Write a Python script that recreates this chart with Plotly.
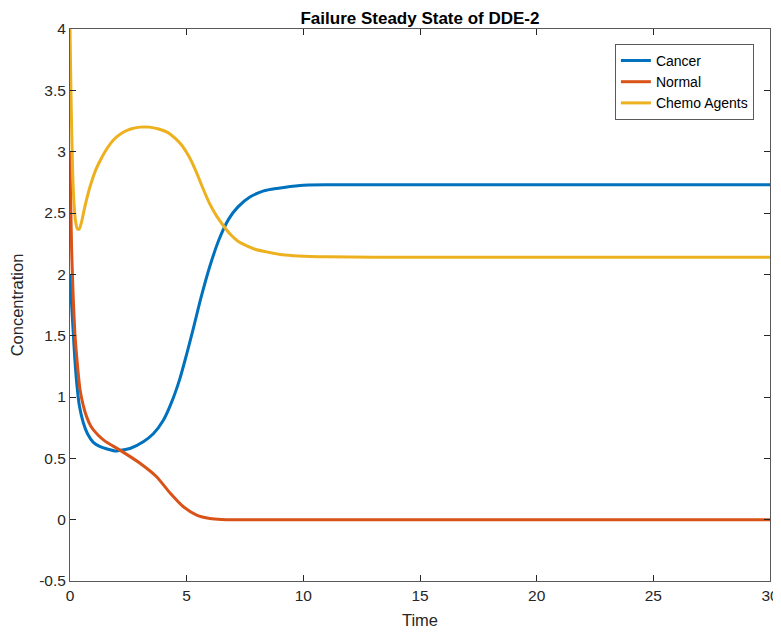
import plotly.graph_objects as go

# ---- data ----
t_cancer = [0, 0.07, 0.14, 0.21, 0.29, 0.4, 0.57, 0.75, 1.0, 1.29, 1.71, 1.93, 2.14, 2.57,
            3.14, 3.57, 4.0, 4.36, 4.71, 5.0, 5.3, 5.6, 6.0, 6.4, 6.8, 7.2, 7.71, 8.3,
            8.86, 9.86, 11, 15, 20, 25, 30]
cancer = [2.0, 1.75, 1.52, 1.30, 1.11, 0.93, 0.79, 0.70, 0.63, 0.595, 0.57, 0.56, 0.565, 0.58,
          0.635, 0.70, 0.81, 0.96, 1.15, 1.35, 1.57, 1.80, 2.07, 2.29, 2.45, 2.55, 2.63, 2.68,
          2.70, 2.725, 2.73, 2.73, 2.73, 2.73, 2.73]

t_normal = [0, 0.03, 0.07, 0.14, 0.21, 0.3, 0.43, 0.57, 0.71, 0.9, 1.2, 1.5, 2.14, 3.0,
            3.71, 4.29, 4.86, 5.43, 6.0, 6.5, 7.0, 10, 15, 20, 25, 30]
normal = [3.0, 2.6, 2.2, 1.8, 1.52, 1.3, 1.06, 0.93, 0.84, 0.76, 0.69, 0.64, 0.567, 0.46,
          0.35, 0.217, 0.105, 0.038, 0.01, 0.002, 0.0, 0.0, 0.0, 0.0, 0.0, 0.0]

t_chemo = [0, 0.04, 0.08, 0.12, 0.17, 0.24, 0.32, 0.4, 0.5, 0.6, 0.75, 0.9, 1.1, 1.3,
           1.5, 1.75, 2.0, 2.3, 2.6, 3.0, 3.4, 3.8, 4.2, 4.5, 4.8, 5.1, 5.4, 5.7, 6.0,
           6.3, 6.6, 6.9, 7.2, 7.6, 8.0, 8.5, 9.1, 9.8, 11, 13, 20, 30]
chemo = [4.0, 3.5, 3.1, 2.8, 2.58, 2.43, 2.37, 2.37, 2.43, 2.52, 2.64, 2.74, 2.85, 2.93,
         3.00, 3.07, 3.12, 3.16, 3.185, 3.20, 3.20, 3.185, 3.155, 3.11, 3.05, 2.96, 2.84,
         2.70, 2.57, 2.47, 2.39, 2.32, 2.27, 2.23, 2.20, 2.18, 2.16, 2.15, 2.143, 2.14,
         2.14, 2.14]

x_ticks = [0, 5, 10, 15, 20, 25, 30]
y_ticks = [-0.5, 0, 0.5, 1, 1.5, 2, 2.5, 3, 3.5, 4]
y_tick_labels = ["-0.5", "0", "0.5", "1", "1.5", "2", "2.5", "3", "3.5", "4"]

FONT = "Liberation Sans, Arial, Helvetica, sans-serif"
TXT = "#262626"
AX = "#5a5a5a"

# page body has an 8px margin, so the figure is sized/offset to compensate
W, H = 773, 625
L, R, T, B = 62, 11, 21, 52

fig = go.Figure()
for name, tx, ty, col in [("Cancer", t_cancer, cancer, "#0072BD"),
                          ("Normal", t_normal, normal, "#D95319"),
                          ("Chemo Agents", t_chemo, chemo, "#EDB120")]:
    fig.add_trace(go.Scatter(x=tx, y=ty, mode="lines", name=name,
                             line=dict(color=col, width=3, shape="spline", smoothing=0.6)))

fig.update_layout(
    width=W, height=H,
    margin=dict(l=L, r=R, t=T, b=B, autoexpand=False),
    paper_bgcolor="white", plot_bgcolor="white",
    font=dict(family=FONT, color=TXT, size=15),
    title=dict(text="<b>Failure Steady State of DDE-2</b>", x=(L + 350) / W, xanchor="center",
               y=1 - 10.5 / H, yanchor="middle", font=dict(size=17, color="black"),
               automargin=False),
    showlegend=True,
    legend=dict(x=0.977, xanchor="right", y=0.973, yanchor="top",
                bgcolor="white", bordercolor=AX, borderwidth=1,
                font=dict(size=14, color="black"), tracegroupgap=0,
                itemwidth=30),
)
fig.update_xaxes(range=[0, 30], tickvals=x_ticks, ticks="inside", ticklen=6, tickcolor=TXT,
                 showline=True, linecolor=AX, linewidth=1, mirror="ticks", showgrid=False,
                 zeroline=False, tickfont=dict(size=15.5), automargin=False,
                 title=dict(text="Time", font=dict(size=16.5), standoff=11))
fig.update_yaxes(range=[-0.5, 4], tickvals=y_ticks, ticktext=y_tick_labels, ticks="inside",
                 ticklen=6, tickcolor=TXT, showline=True, linecolor=AX, linewidth=1,
                 mirror="ticks", showgrid=False, zeroline=False, tickfont=dict(size=15.5),
                 automargin=False,
                 title=dict(text="Concentration", font=dict(size=16.5), standoff=12))

fig.write_html("out.html")
